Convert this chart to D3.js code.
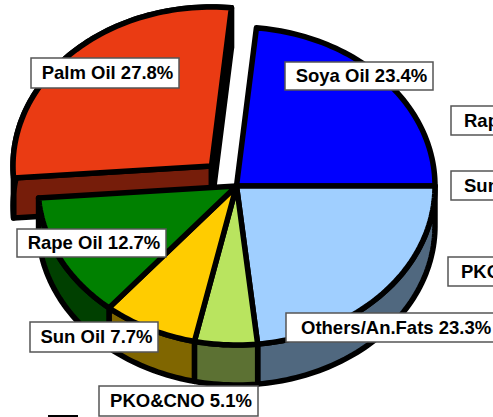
<!DOCTYPE html>
<html><head><meta charset="utf-8">
<script src="https://cdn.jsdelivr.net/npm/d3@7/dist/d3.min.js"></script>
<style>html,body{margin:0;padding:0;background:#fff;overflow:hidden}svg{display:block}</style>
</head><body><svg id="c" width="493" height="417"></svg>
<script>
const categories = ["Soya Oil","Others/An.Fats","PKO&CNO","Sun Oil","Rape Oil","Palm Oil"];
const shares = [23.4,23.3,5.1,7.7,12.7,27.8];
const topColors = ["#0000ff","#a0cfff","#b9e45f","#ffcc00","#008000","#ea3b13"];
const wallColors = ["#000080","#50687f","#5c7133","#806600","#004000","#761d0a"];
const exploded = ["Palm Oil"];
// label boxes, in the same order as categories: left, top, width, height
const inPie = {"Soya Oil":[285,62,148,28],"Others/An.Fats":[286,313,260,29],"PKO&CNO":[99,386,159,30],
  "Sun Oil":[30,322,128,30],"Rape Oil":[17,229,149,28],"Palm Oil":[31,58,148,30]};
const offPie = [["Rape Oil",451,106,150,29],["Sun Oil",451,171,130,29],["PKO&CNO",448,257,160,29]];

const svg = d3.select("#c");
const sx = d3.scaleLinear().domain([-1,1]).range([38,435]);
const sy = d3.scaleLinear().domain([-1,1]).range([27,345]);
const depth = 40, explode = [-25,-20], SW = 5.5, FS = 18.5;
const total = d3.sum(shares);
const start = Math.PI/2 - 2*Math.PI*shares[0]/total;
const pie = d3.pie().sort(null).startAngle(start).endAngle(start+2*Math.PI);
const arcs = pie(shares).map((a,i)=>({...a,name:categories[i],top:topColors[i],wall:wallColors[i]}));
const line = d3.line().x(d=>d[0]).y(d=>d[1]);
const pt = (t,dx,dy)=>[sx(Math.sin(t))+dx, sy(-Math.cos(t))+dy];
function rim(a,dx,dy){
  const n = Math.max(4,Math.ceil((a.endAngle-a.startAngle)*40));
  return d3.range(n+1).map(k=>pt(a.startAngle+(a.endAngle-a.startAngle)*k/n,dx,dy));
}
const style = s=>s.attr("stroke","#000").attr("stroke-width",SW).attr("stroke-linejoin","round");
function drawWalls(a){
  const off = exploded.includes(a.name)?explode:[0,0];
  const c = [sx(0)+off[0], sy(0)+off[1]];
  const g = svg.append("g");
  const r = rim(a,off[0],off[1]);
  const wallPoly = pts=>pts.concat(pts.slice().reverse().map(p=>[p[0],p[1]+depth]));
  if(exploded.includes(a.name)){
    [[c,r[0]],[r[r.length-1],c]].forEach(seg=>
      style(g.append("path").attr("d",line(wallPoly(seg))+"Z").attr("fill",a.wall)));
  }
  style(g.append("path").attr("d",line(wallPoly(r))+"Z").attr("fill",a.wall));
}
function drawTop(a){
  const off = exploded.includes(a.name)?explode:[0,0];
  const c = [sx(0)+off[0], sy(0)+off[1]];
  style(svg.append("path").attr("d",line([c,...rim(a,off[0],off[1])])+"Z").attr("fill",a.top));
}
// exploded slice first, then the front walls, then the tops
const palm = arcs.filter(a=>exploded.includes(a.name));
const rest = arcs.filter(a=>!exploded.includes(a.name));
palm.forEach(drawWalls); palm.forEach(drawTop);
rest.filter(a=>a.name!=="Soya Oil").forEach(drawWalls);
rest.forEach(drawTop);

function box(x,y,w,h){
  svg.append("rect").attr("x",x).attr("y",y).attr("width",w).attr("height",h)
    .attr("fill","#fff").attr("stroke","#555").attr("stroke-width",1.5);
}
function txt(t,x,y,anchor){
  svg.append("text").attr("x",x).attr("y",y).attr("text-anchor",anchor)
    .attr("font-family","Liberation Sans").attr("font-weight","bold").attr("font-size",FS).attr("fill","#000").text(t);
}
const pctText = n=>`${n} ${shares[categories.indexOf(n)].toFixed(1)}%`;
categories.forEach(n=>{const b=inPie[n];
  box(b[0],b[1],b[2],b[3]);
  if(n==="Others/An.Fats") txt(pctText(n),301,b[1]+b[3]/2+6,"start");
  else txt(pctText(n),b[0]+b[2]/2+2.5,b[1]+b[3]/2+6,"middle");
});
offPie.forEach(d=>{
  box(d[1],d[2],d[3],d[4]);
  txt(pctText(d[0]),d[1]+13,d[2]+d[4]/2+6,"start");
});
svg.append("rect").attr("x",49).attr("y",416).attr("width",28).attr("height",10).attr("fill","#fff").attr("stroke","#000").attr("stroke-width",2);
</script></body></html>
